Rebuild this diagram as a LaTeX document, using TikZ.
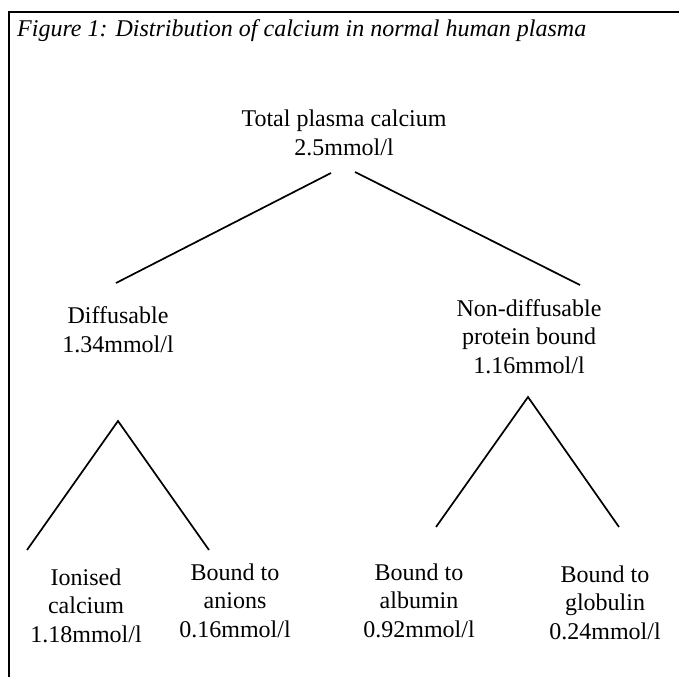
\documentclass[tikz,border=0pt]{standalone}
\usepackage{fontspec}
\setmainfont{Liberation Serif}
\begin{document}
\begin{tikzpicture}[x=1pt,y=-1pt,
  lbl/.style={font=\fontsize{24}{28.5}\selectfont, align=center, inner sep=0pt, anchor=base},
  link/.style={line width=1.7pt, line cap=butt},
  frame/.style={line width=2pt}]
\useasboundingbox (0,0) rectangle (679,677);
% frame (top and left edges)
\coordinate (fr1) at (679,12);
\coordinate (fr2) at (9,12);
\coordinate (fr3) at (9,677);
\draw[frame] (fr1) -- (fr2) -- (fr3);
% title
\node[lbl, anchor=base west, font=\fontsize{24}{28.5}\selectfont\itshape] (title) at (17,37) {Figure 1: Distribution of calcium in normal human plasma};
% texts (anchored at the baseline of the last line)
\node[lbl] (total) at (344,155) {Total plasma calcium\\2.5mmol/l};
\node[lbl] (diff) at (118,352) {Diffusable\\1.34mmol/l};
\node[lbl] (nondiff) at (529,373) {Non-diffusable\\protein bound\\1.16mmol/l};
\node[lbl] (ion) at (86,642) {Ionised\\calcium\\1.18mmol/l};
\node[lbl] (anion) at (235,637) {Bound to\\anions\\0.16mmol/l};
\node[lbl] (alb) at (419,637) {Bound to\\albumin\\0.92mmol/l};
\node[lbl] (glob) at (605,639) {Bound to\\globulin\\0.24mmol/l};
% connector end points
\coordinate (tL) at (331,173);
\coordinate (tR) at (355,172);
\coordinate (dTop) at (116,283);
\coordinate (nTop) at (580,285);
\coordinate (dApex) at (118,421);
\coordinate (ionTop) at (27,550);
\coordinate (anTop) at (209,550);
\coordinate (nApex) at (528,397);
\coordinate (albTop) at (436,527);
\coordinate (globTop) at (619,527);
% connectors
\draw[link] (tL) -- (dTop);
\draw[link] (tR) -- (nTop);
\draw[link, line join=miter] (ionTop) -- (dApex) -- (anTop);
\draw[link, line join=miter] (albTop) -- (nApex) -- (globTop);
\end{tikzpicture}
\end{document}
